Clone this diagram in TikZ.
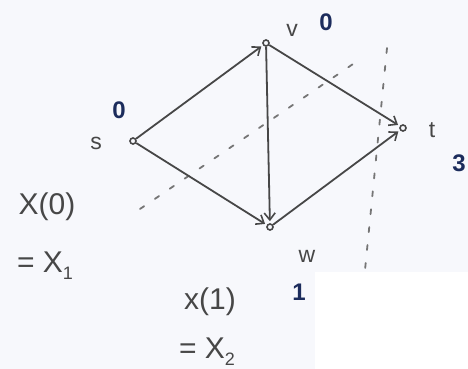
\documentclass[tikz,border=0pt]{standalone}
\usepackage{fontspec}
\setmainfont{Liberation Sans}
\usetikzlibrary{arrows.meta}
\definecolor{bg}{HTML}{F7F8FC}
\definecolor{ink}{HTML}{474747}
\definecolor{blueink}{HTML}{1C2C5C}
\newcommand{\mysub}[1]{\raisebox{-7pt}{\fontsize{18}{18}\selectfont #1}}
\tikzset{
  vtx/.style={circle, draw=ink, line width=1.6pt, inner sep=0pt, minimum size=6pt},
  edge/.style={draw=ink, line width=1.8pt, -{Straight Barb[length=7pt,width=11pt,line width=1.6pt]}, shorten >=2pt},
  dashln/.style={draw=ink!75, line width=1.8pt, dash pattern=on 5pt off 13pt, line cap=round},
  lbl/.style={text=ink, inner sep=0pt, font=\fontsize{23}{25}\selectfont},
  big/.style={text=ink, inner sep=0pt, font=\fontsize{30}{32}\selectfont},
  num/.style={text=blueink, inner sep=0pt, font=\bfseries\fontsize{24}{26}\selectfont}
}
\begin{document}
\begin{tikzpicture}[x=1pt,y=-1pt]
\useasboundingbox (0,0) rectangle (468,369);
\fill[bg] (0,0) rectangle (468,369);
\fill[white] (315,272) rectangle (468,369);
% dashed helper lines
\coordinate (d1a) at (140,209);
\coordinate (d1b) at (356,62);
\coordinate (d2a) at (387,48);
\coordinate (d2b) at (365,270);
\draw[dashln] (d1a) -- (d1b);
\draw[dashln] (d2a) -- (d2b);
% vertices
\node[vtx] (s) at (133,141) {};
\node[vtx] (v) at (266,43) {};
\node[vtx] (w) at (270,227) {};
\node[vtx] (t) at (403,128) {};
% edges
\draw[edge] (s) -- (v);
\draw[edge] (s) -- (w);
\draw[edge] (v) -- (w);
\draw[edge] (v) -- (t);
\draw[edge] (w) -- (t);
% labels
\node[lbl] (ls) at (96,143) {s};
\node[num] (ns) at (119,110) {0};
\node[lbl] (lv) at (292,30) {v};
\node[num] (nv) at (326,22) {0};
\node[lbl] (lt) at (432,130) {t};
\node[num] (nt) at (459,163) {3};
\node[lbl] (lw) at (307,256) {w};
\node[num] (nw) at (299,292) {1};
\node[big] (x0) at (47,207) {X(0)};
\node[big] (x1) at (45,266) {= X\mysub{1}};
\node[big] (xa) at (210,302) {x(1)};
\node[big] (x2) at (207,352) {= X\mysub{2}};
\end{tikzpicture}
\end{document}
